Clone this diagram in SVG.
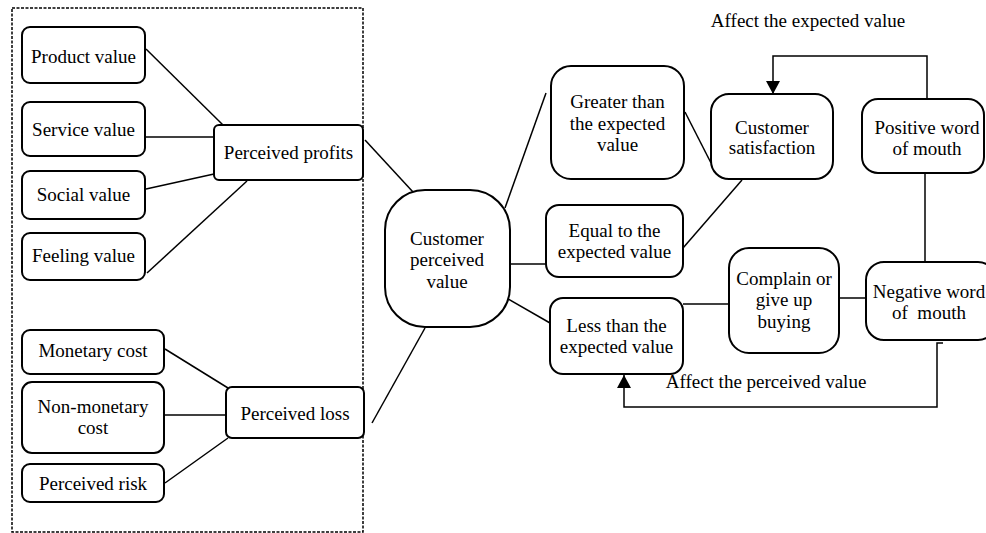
<svg xmlns="http://www.w3.org/2000/svg" width="986" height="533" viewBox="0 0 986 533">
<style>
.b{fill:#fff;stroke:#000;stroke-width:2}
.l{fill:none;stroke:#000;stroke-width:1.5}
text{font-family:"Liberation Serif","Times New Roman",serif;font-size:19px;fill:#000;text-anchor:middle}
</style>
<defs>
<marker id="ah" viewBox="0 0 13 14" refX="13" refY="7" markerWidth="13" markerHeight="14" markerUnits="userSpaceOnUse" orient="auto">
<path d="M0,0 L13,7 L0,14 Z" fill="#000"/>
</marker>
</defs>
<rect x="0" y="0" width="986" height="533" fill="#fff"/>
<rect id="frame" x="12" y="8" width="351" height="524" fill="none" stroke="#000" stroke-width="1.5" stroke-dasharray="3,1.5"/>
<g id="connectors">
<line class="l" x1="146" y1="49" x2="223" y2="125"/>
<line class="l" x1="145" y1="137" x2="214" y2="137"/>
<line class="l" x1="146" y1="189" x2="214" y2="174"/>
<line class="l" x1="147" y1="273" x2="247" y2="181"/>
<line class="l" x1="165" y1="349" x2="228" y2="388"/>
<line class="l" x1="164" y1="415" x2="226" y2="415"/>
<line class="l" x1="165" y1="483" x2="228" y2="438"/>
<line class="l" x1="365" y1="140" x2="413" y2="192"/>
<line class="l" x1="372" y1="423" x2="425" y2="328"/>
<line class="l" x1="505" y1="208" x2="546" y2="93"/>
<line class="l" x1="510" y1="264" x2="546" y2="264"/>
<line class="l" x1="508" y1="299" x2="550" y2="323"/>
<line class="l" x1="685" y1="112" x2="711" y2="163"/>
<line class="l" x1="683" y1="248" x2="742" y2="180"/>
<line class="l" x1="683" y1="304" x2="729" y2="304"/>
<line class="l" x1="839" y1="298" x2="866" y2="298"/>
<line class="l" x1="925" y1="173" x2="925" y2="262"/>
<polyline class="l" points="927,99 927,56 773,56 773,94" marker-end="url(#ah)"/>
<polyline class="l" points="943,343 937,343 937,407 624,407 624,375" marker-end="url(#ah)"/>
<text x="808" y="27">Affect the expected value</text>
<text x="766" y="388">Affect the perceived value</text>
</g>
<g id="product"><rect class="b" x="22" y="27" width="123" height="56" rx="8"/><text x="83.5" y="63">Product value</text></g>
<g id="service"><rect class="b" x="22" y="102" width="123" height="54" rx="8"/><text x="83.5" y="136">Service value</text></g>
<g id="social"><rect class="b" x="22" y="171" width="123" height="48" rx="8"/><text x="83.5" y="201">Social value</text></g>
<g id="feeling"><rect class="b" x="22" y="233" width="123" height="47" rx="8"/><text x="83.5" y="262">Feeling value</text></g>
<g id="profits"><rect class="b" x="214" y="125" width="149" height="55" rx="5"/><text x="288.5" y="159">Perceived profits</text></g>
<g id="monetary"><rect class="b" x="22" y="330" width="142" height="44" rx="8"/><text x="93" y="357">Monetary cost</text></g>
<g id="nonmonetary"><rect class="b" x="22" y="382" width="142" height="71" rx="10"/><text x="93" y="413">Non-monetary</text><text x="93" y="434">cost</text></g>
<g id="risk"><rect class="b" x="22" y="464" width="142" height="38" rx="8"/><text x="93" y="490">Perceived risk</text></g>
<g id="loss"><rect class="b" x="226" y="387" width="138" height="51" rx="6"/><text x="295" y="420">Perceived loss</text></g>
<g id="cpv"><rect class="b" x="385" y="190" width="125" height="137" rx="40"/><text x="447" y="244.5">Customer</text><text x="447" y="266">perceived</text><text x="447" y="287.5">value</text></g>
<g id="greater"><rect class="b" x="551" y="66" width="133" height="113" rx="20"/><text x="617.5" y="108">Greater than</text><text x="617.5" y="130">the expected</text><text x="617.5" y="151">value</text></g>
<g id="equal"><rect class="b" x="546" y="205" width="137" height="72" rx="13"/><text x="614.5" y="237">Equal to the</text><text x="614.5" y="258">expected value</text></g>
<g id="less"><rect class="b" x="550" y="298" width="133" height="76" rx="13"/><text x="616.5" y="332">Less than the</text><text x="616.5" y="353">expected value</text></g>
<g id="satisfaction"><rect class="b" x="711" y="94" width="122" height="85" rx="18"/><text x="772" y="134">Customer</text><text x="772" y="154">satisfaction</text></g>
<g id="positive"><rect class="b" x="862" y="99" width="122" height="74" rx="16"/><text x="927" y="134">Positive word</text><text x="927" y="155">of mouth</text></g>
<g id="complain"><rect class="b" x="729" y="248" width="110" height="105" rx="20"/><text x="784" y="285">Complain or</text><text x="784" y="306">give up</text><text x="784" y="328">buying</text></g>
<g id="negative"><rect class="b" x="866" y="262" width="130" height="78" rx="18"/><text x="929" y="298">Negative word</text><text x="929" y="319" xml:space="preserve">of  mouth</text></g>
</svg>
